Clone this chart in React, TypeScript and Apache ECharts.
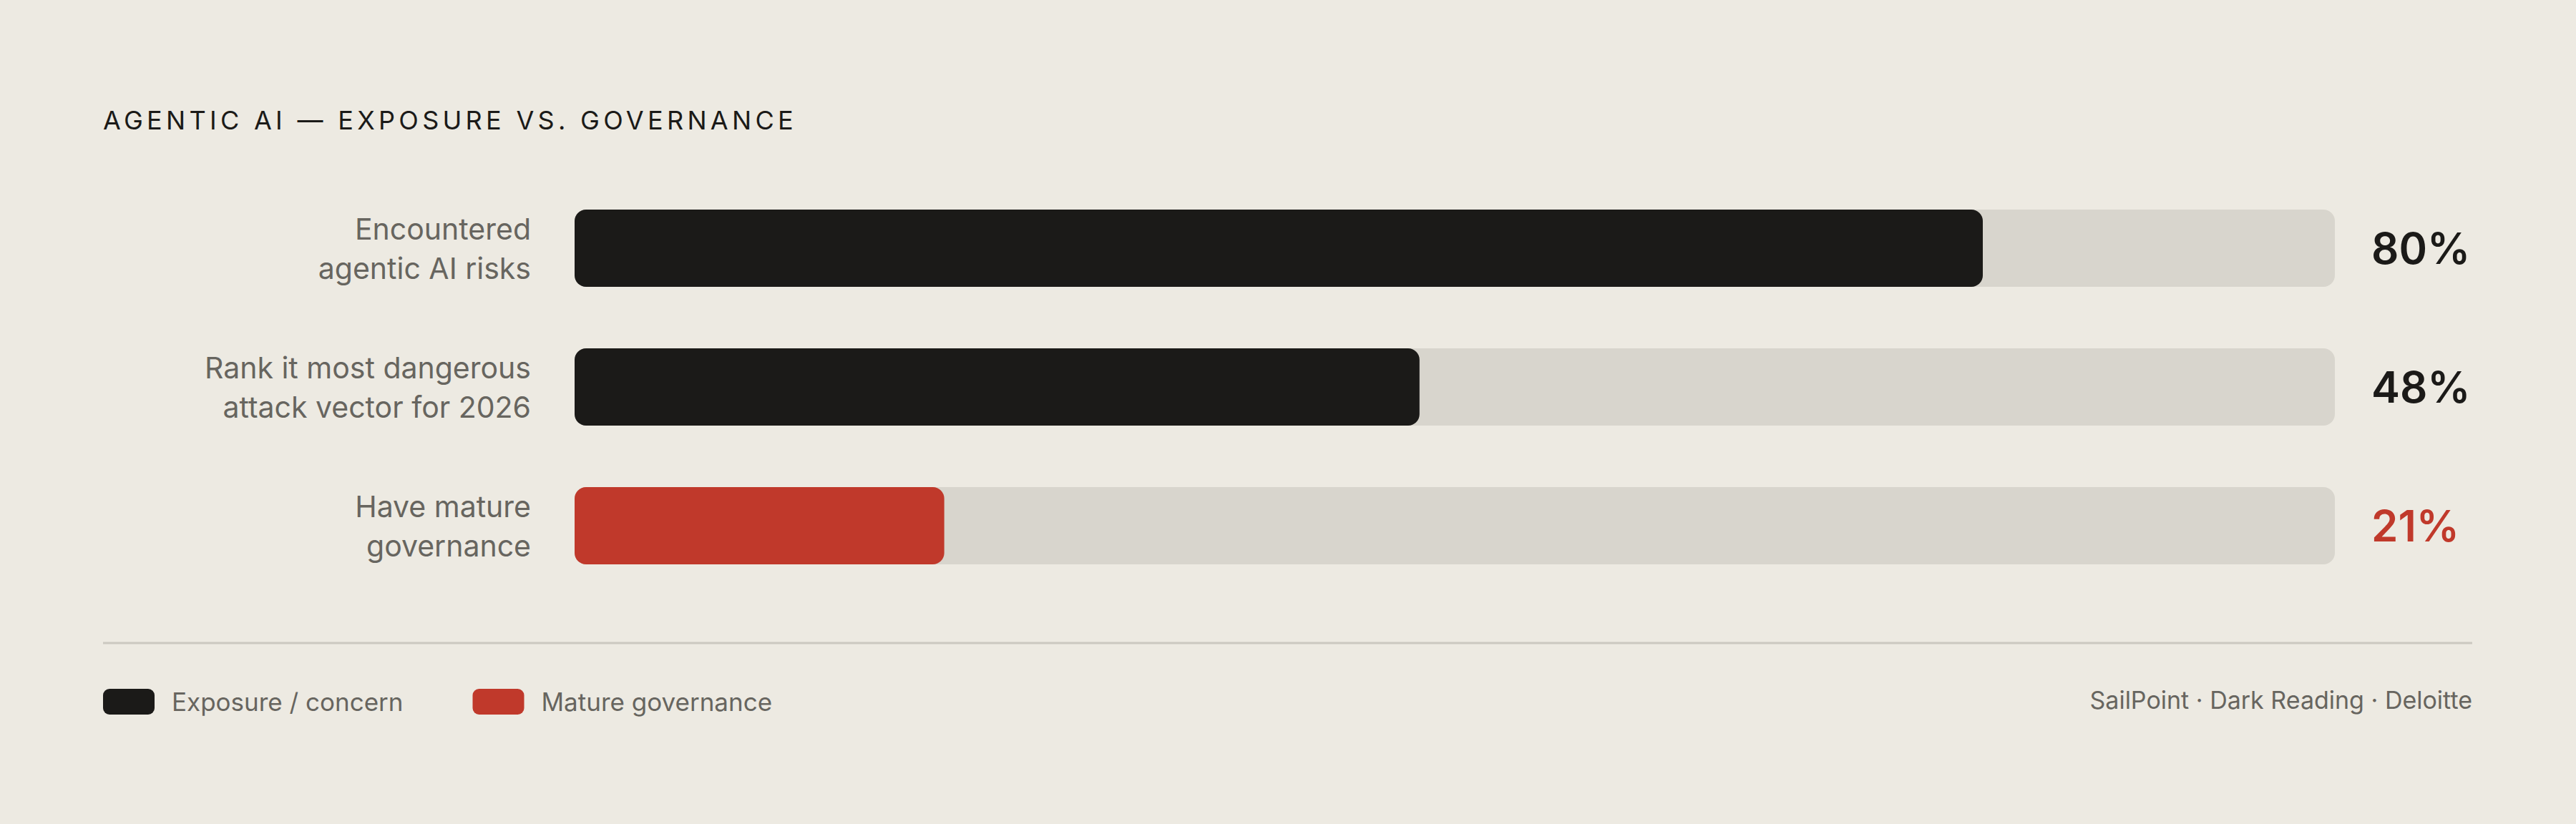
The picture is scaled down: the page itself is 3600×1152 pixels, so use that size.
import { useEffect, useRef } from 'react'
import * as echarts from 'echarts'

const categories = [
  'Encountered\nagentic AI risks',
  'Rank it most dangerous\nattack vector for 2026',
  'Have mature\ngovernance'
]
const exposureValues = [80, 48, '-']
const governanceValues = ['-', '-', 21]
const valueLabels = ['80%', '48%', '21%']
const trackValues = [100, 100, 100]

const TITLE = 'AGENTIC AI — EXPOSURE VS. GOVERNANCE'
const FONT = 'Inter, "Noto Sans", sans-serif'
const INK = '#1b1a18'
const RED = '#c0392b'
const MUTED = '#67655f'

export default function App(): JSX.Element {
  const chartRef = useRef<HTMLDivElement>(null)

  useEffect(() => {
    if (!chartRef.current) return
    const chart = echarts.init(chartRef.current, undefined, { renderer: 'svg' })

    const option: echarts.EChartsOption = {
      animation: false,
      backgroundColor: '#edeae2',
      textStyle: { fontFamily: FONT },
      title: {
        text: TITLE,
        left: 144,
        top: 150,
        padding: 0,
        textStyle: {
          fontFamily: FONT,
          fontSize: 36,
          fontWeight: 400,
          color: INK
        }
      },
      grid: {
        left: 803,
        right: 337,
        top: 250,
        height: 582,
        containLabel: false
      },
      xAxis: {
        type: 'value',
        min: 0,
        max: 100,
        show: false
      },
      yAxis: {
        type: 'category',
        inverse: true,
        data: categories,
        axisLine: { show: false },
        axisTick: { show: false },
        splitLine: { show: false },
        axisLabel: {
          margin: 61,
          fontFamily: FONT,
          fontSize: 41,
          lineHeight: 55,
          color: MUTED
        }
      },
      legend: {
        data: ['Exposure / concern', 'Mature governance'],
        left: 144,
        top: 963,
        padding: 0,
        itemWidth: 72,
        itemHeight: 36,
        itemGap: 97,
        icon: 'roundRect',
        selectedMode: false,
        textStyle: {
          fontFamily: FONT,
          fontSize: 35,
          color: MUTED,
          padding: [0, 0, 0, 19]
        }
      },
      series: [
        {
          name: 'track',
          type: 'bar',
          data: trackValues,
          barWidth: 108,
          barGap: '-100%',
          silent: true,
          itemStyle: { color: '#d8d5cd', borderRadius: 16 },
          label: {
            show: true,
            position: 'right',
            distance: 51,
            formatter: (p: any) =>
              p.dataIndex === 2 ? `{r|${valueLabels[p.dataIndex]}}` : `{k|${valueLabels[p.dataIndex]}}`,
            rich: {
              k: { fontFamily: FONT, fontSize: 60, fontWeight: 600, color: INK },
              r: { fontFamily: FONT, fontSize: 60, fontWeight: 600, color: RED }
            }
          }
        },
        {
          name: 'Exposure / concern',
          type: 'bar',
          data: exposureValues,
          barWidth: 108,
          barGap: '-100%',
          itemStyle: { color: INK, borderRadius: 16 }
        },
        {
          name: 'Mature governance',
          type: 'bar',
          data: governanceValues,
          barWidth: 108,
          barGap: '-100%',
          itemStyle: { color: RED, borderRadius: 16 }
        }
      ],
      graphic: [
        {
          type: 'line',
          shape: { x1: 144, y1: 899, x2: 3455, y2: 899 },
          style: { stroke: '#cbc8c0', lineWidth: 3 },
          silent: true
        },
        {
          type: 'text',
          right: 145,
          top: 961,
          style: {
            text: 'SailPoint · Dark Reading · Deloitte',
            fontFamily: FONT,
            fontSize: 34,
            fill: MUTED
          }
        }
      ]
    }

    chart.setOption(option)

    // the title is tracked out in the original; ECharts has no letter-spacing option
    const spaceTitle = () => {
      chartRef.current?.querySelectorAll('text').forEach((t) => {
        if (t.textContent === TITLE) t.style.letterSpacing = '5.3px'
      })
    }
    spaceTitle()
    chart.on('finished', spaceTitle)

    return () => {
      chart.dispose()
    }
  }, [])

  return (
    <div
      ref={chartRef}
      style={{ position: 'fixed', left: 0, top: 0, width: 3600, height: 1152 }}
    />
  )
}
